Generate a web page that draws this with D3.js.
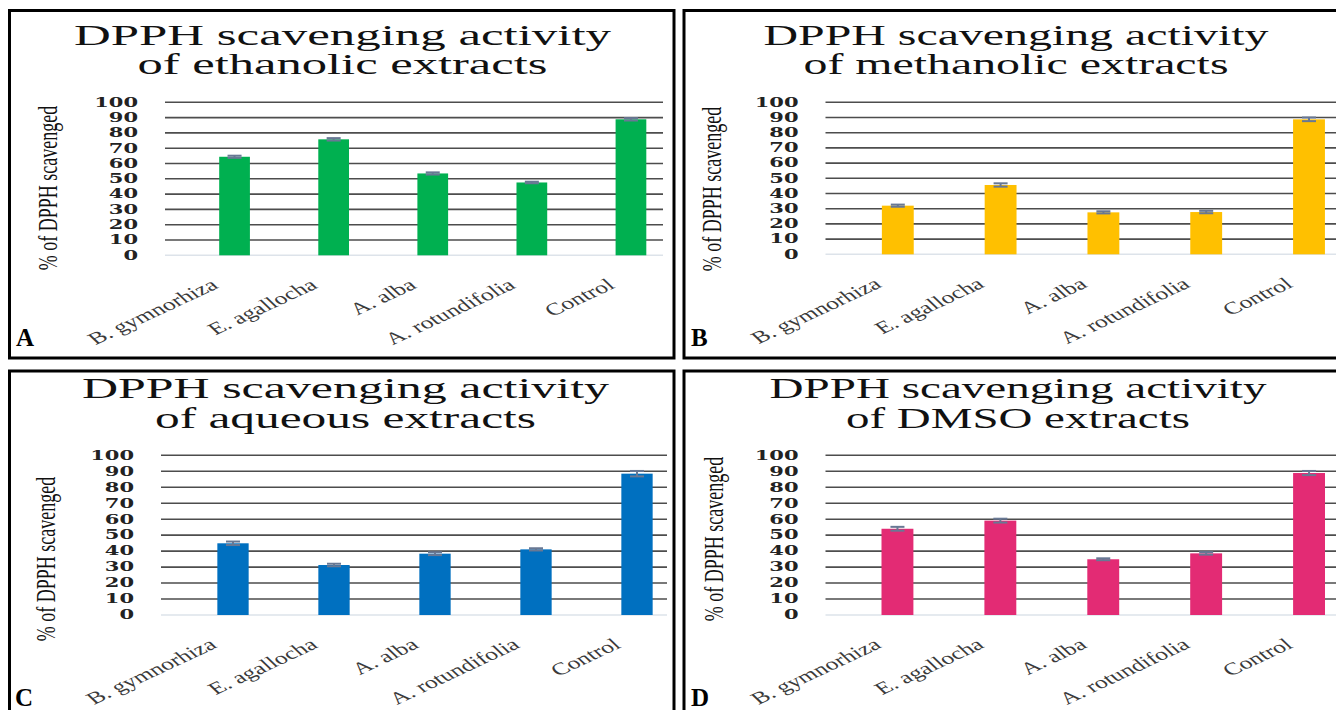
<!DOCTYPE html>
<html lang="en">
<head>
<meta charset="UTF-8">
<title>DPPH scavenging activity</title>
<style>
  body { margin: 0; background: #fff; }
  svg { display: block; }
  .title { font-family: "Liberation Serif", "Times New Roman", serif; font-size: 30px; fill: #111; }
  .ytick { font-family: "DejaVu Serif", serif; font-weight: bold; font-size: 12px; fill: #222; }
  .ytitle { font-family: "Liberation Serif", "Times New Roman", serif; font-size: 18px; fill: #111; }
  .xlab { font-family: "Liberation Serif", "Times New Roman", serif; font-size: 17px; fill: #3a3a3a; }
  .letter { font-family: "Liberation Serif", "Times New Roman", serif; font-weight: bold; font-size: 25px; fill: #000; }
</style>
</head>
<body>
<svg width="1336" height="710"></svg>
<script src="https://d3js.org/d3.v7.min.js"></script>
<script>
// data
const categories = ["B. gymnorhiza", "E. agallocha", "A. alba", "A. rotundifolia", "Control"];
const yTicks = [0, 10, 20, 30, 40, 50, 60, 70, 80, 90, 100];

const ethanolic    = [64.4, 75.8, 53.5, 47.6, 88.9];
const ethanolicErr = [0.7, 0.8, 0.7, 0.5, 0.8];
const methanolic    = [32.0, 45.6, 27.6, 27.8, 88.8];
const methanolicErr = [0.7, 1.1, 0.7, 0.8, 1.2];
const aqueous    = [44.9, 31.3, 38.4, 41.1, 88.5];
const aqueousErr = [1.1, 0.8, 0.9, 0.7, 1.7];
const dmso    = [54.0, 59.1, 34.9, 38.6, 88.9];
const dmsoErr = [1.2, 1.2, 0.6, 0.8, 1.3];

const titleLine1 = "DPPH scavenging activity";
const titleLine2 = ["of ethanolic  extracts", "of methanolic  extracts", "of aqueous  extracts", "of DMSO extracts"];
const yTitle = "% of DPPH scavenged";
const letters = ["A", "B", "C", "D"];
const colors = ["#00b050", "#ffc000", "#0070c0", "#e32b74"];

const series = [ethanolic, methanolic, aqueous, dmso];
const errors = [ethanolicErr, methanolicErr, aqueousErr, dmsoErr];

// where each panel sits on the page (the source picture is stretched sideways)
const layout = [
  { box: [9.5, 10.5, 674, 358], grid: [165, 663], band: [185, 680.5], y: [255.3, 102.3],
    title: [342.5, 45, 74, 537, 410], ytitle: [57, 188], letter: [16, 346] },
  { box: [684, 10.5, 1345, 358], grid: [825.5, 1340], band: [846.4, 1360.4], y: [254.3, 102.3],
    title: [1016, 45, 74, 505, 425], ytitle: [721, 189], letter: [691, 346] },
  { box: [9.5, 371, 674, 715], grid: [161, 667], band: [182.5, 687.5], y: [615, 455.3],
    title: [345.5, 398, 428, 527, 381], ytitle: [55, 559], letter: [15, 706] },
  { box: [684, 371, 1345, 715], grid: [825.5, 1340], band: [846, 1360.5], y: [615, 455.3],
    title: [1018, 398, 428, 497, 344], ytitle: [723, 539], letter: [691, 706] }
];

const SX = 1.5;   // sideways stretch of the rotated texts

const svg = d3.select("svg");
svg.append("rect").attr("width", 1336).attr("height", 710).attr("fill", "#fff");

layout.forEach((L, i) => {
  const g = svg.append("g");

  // frame
  g.append("rect")
    .attr("x", L.box[0]).attr("y", L.box[1])
    .attr("width", L.box[2] - L.box[0]).attr("height", L.box[3] - L.box[1])
    .attr("fill", "none").attr("stroke", "#000").attr("stroke-width", 3);

  const x = d3.scaleBand()
    .domain(categories)
    .range(L.band)
    .paddingInner(0.69)
    .paddingOuter(0.345);

  const y = d3.scaleLinear().domain([0, 100]).range(L.y);

  // gridlines
  g.selectAll("line.grid")
    .data(yTicks)
    .join("line")
    .attr("class", "grid")
    .attr("x1", L.grid[0]).attr("x2", L.grid[1])
    .attr("y1", d => y(d)).attr("y2", d => y(d))
    .attr("stroke", d => d == 0 ? "#dde3ea" : "#4d4d4d")
    .attr("stroke-width", 1.6);

  // tick labels
  g.selectAll("text.ytick")
    .data(yTicks)
    .join("text")
    .attr("class", "ytick")
    .attr("text-anchor", "end")
    .attr("dy", "0.36em")
    .attr("transform", d => `translate(${L.grid[0] - 27},${y(d)}) scale(1.75,1)`)
    .text(d => d);

  // bars
  const rows = categories.map((c, k) => ({ c: c, v: series[i][k], e: errors[i][k] }));

  g.selectAll("rect.bar")
    .data(rows)
    .join("rect")
    .attr("class", "bar")
    .attr("x", d => x(d.c))
    .attr("width", x.bandwidth())
    .attr("y", d => y(d.v))
    .attr("height", d => y(0) - y(d.v))
    .attr("fill", colors[i]);

  // error bars
  const eb = g.selectAll("g.err")
    .data(rows)
    .join("g")
    .attr("class", "err")
    .attr("stroke", "#687894")
    .attr("stroke-width", 2);
  const cx = d => x(d.c) + x.bandwidth() / 2;
  eb.append("line")
    .attr("x1", cx).attr("x2", cx)
    .attr("y1", d => y(d.v + d.e)).attr("y2", d => y(d.v - d.e));
  eb.append("line")
    .attr("x1", d => cx(d) - 7).attr("x2", d => cx(d) + 7)
    .attr("y1", d => y(d.v + d.e)).attr("y2", d => y(d.v + d.e));
  eb.append("line")
    .attr("x1", d => cx(d) - 7).attr("x2", d => cx(d) + 7)
    .attr("y1", d => y(d.v - d.e)).attr("y2", d => y(d.v - d.e));

  // category labels
  g.selectAll("text.xlab")
    .data(categories)
    .join("text")
    .attr("class", "xlab")
    .attr("text-anchor", "end")
    .attr("transform", d => `translate(${x(d) + x.bandwidth() / 2 - 15},${y(0) + 32}) scale(${SX},1) rotate(-35)`)
    .text(d => d);

  // axis title
  g.append("text")
    .attr("class", "ytitle")
    .attr("text-anchor", "middle")
    .attr("transform", `translate(${L.ytitle[0]},${L.ytitle[1]}) scale(${SX},1) rotate(-90)`)
    .text(yTitle);

  // chart title
  g.append("text")
    .attr("class", "title")
    .attr("x", L.title[0]).attr("y", L.title[1])
    .attr("text-anchor", "middle")
    .attr("textLength", L.title[3])
    .attr("lengthAdjust", "spacingAndGlyphs")
    .text(titleLine1);
  g.append("text")
    .attr("class", "title")
    .attr("x", L.title[0]).attr("y", L.title[2])
    .attr("text-anchor", "middle")
    .attr("textLength", L.title[4])
    .attr("lengthAdjust", "spacingAndGlyphs")
    .text(titleLine2[i]);

  // panel letter
  g.append("text")
    .attr("class", "letter")
    .attr("x", L.letter[0]).attr("y", L.letter[1])
    .text(letters[i]);
});
</script>
</body>
</html>
